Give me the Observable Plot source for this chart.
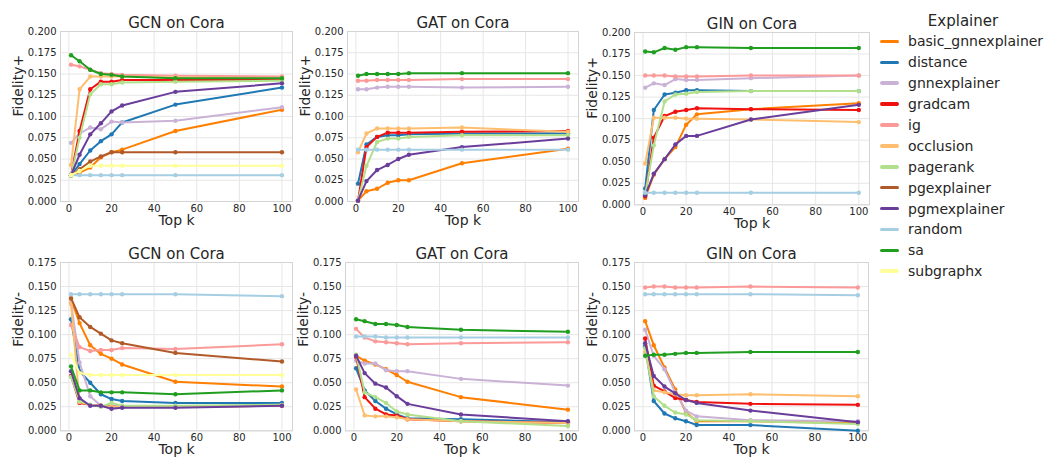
<!DOCTYPE html>
<html><head><meta charset="utf-8">
<script src="https://cdn.jsdelivr.net/npm/d3@7"></script>
<script src="https://cdn.jsdelivr.net/npm/@observablehq/plot@0.6"></script>
<style>
body{margin:0;background:#fff;font-family:"DejaVu Sans",sans-serif;}
#chart{position:relative;width:1047px;height:461px;overflow:hidden;background:#fff;}
.panel{position:absolute;}
#legend{position:absolute;left:880px;top:11px;width:166px;color:#262626;}
#legend .lt{font-size:15px;line-height:20px;text-align:center;}
#legend .row{display:flex;align-items:center;height:20.9px;font-size:14px;white-space:nowrap;}
#legend .sw{width:19px;height:3.5px;border-radius:2px;margin-right:9px;flex:none;}
</style></head><body><div id="chart"><div id="legend"></div></div>
<script>
const topK = [1, 5, 10, 15, 20, 25, 50, 100];
const explainers = ["basic_gnnexplainer","distance","gnnexplainer","gradcam","ig","occlusion","pagerank","pgexplainer","pgmexplainer","random","sa","subgraphx"];
const explainerColors = ["#ff7f00","#1f78b4","#cab2d6","#f01010","#fb9a99","#fdbf6f","#b2df8a","#b15928","#6a3d9a","#a6cee3","#1f9e1f","#ffff99"];
const xTicks = [0, 20, 40, 60, 80, 100];
const yTicksPlus = [0, 0.025, 0.05, 0.075, 0.1, 0.125, 0.15, 0.175, 0.2];
const yTicksMinus = [0, 0.025, 0.05, 0.075, 0.1, 0.125, 0.15, 0.175];

const gcnFidPlus = {
  basic_gnnexplainer: [0.031, 0.034, 0.040, 0.052, 0.058, 0.061, 0.083, 0.108],
  distance:           [0.031, 0.044, 0.060, 0.071, 0.079, 0.093, 0.114, 0.134],
  gnnexplainer:       [0.069, 0.080, 0.087, 0.085, 0.094, 0.093, 0.095, 0.111],
  gradcam:            [0.031, 0.083, 0.132, 0.141, 0.141, 0.143, 0.143, 0.143],
  ig:                 [0.161, 0.159, 0.155, 0.151, 0.150, 0.149, 0.148, 0.147],
  occlusion:          [0.043, 0.132, 0.147, 0.147, 0.147, 0.147, 0.146, 0.145],
  pagerank:           [0.030, 0.075, 0.126, 0.138, 0.138, 0.140, 0.141, 0.142],
  pgexplainer:        [0.031, 0.038, 0.047, 0.053, 0.058, 0.058, 0.058, 0.058],
  pgmexplainer:       [0.031, 0.055, 0.079, 0.092, 0.106, 0.113, 0.129, 0.139],
  random:             [0.031, 0.031, 0.031, 0.031, 0.031, 0.031, 0.031, 0.031],
  sa:                 [0.172, 0.165, 0.155, 0.150, 0.149, 0.147, 0.145, 0.145],
  subgraphx:          [0.031, 0.036, 0.042, 0.042, 0.042, 0.042, 0.042, 0.042]
};
const gatFidPlus = {
  basic_gnnexplainer: [0.001, 0.012, 0.015, 0.022, 0.025, 0.025, 0.045, 0.062],
  distance:           [0.021, 0.067, 0.076, 0.078, 0.078, 0.079, 0.080, 0.080],
  gnnexplainer:       [0.132, 0.132, 0.134, 0.135, 0.135, 0.135, 0.134, 0.135],
  gradcam:            [0.001, 0.064, 0.076, 0.081, 0.081, 0.081, 0.082, 0.083],
  ig:                 [0.142, 0.142, 0.143, 0.143, 0.143, 0.143, 0.144, 0.144],
  occlusion:          [0.058, 0.080, 0.086, 0.086, 0.086, 0.086, 0.087, 0.082],
  pagerank:           [0.001, 0.042, 0.070, 0.074, 0.074, 0.076, 0.078, 0.078],
  pgmexplainer:       [0.001, 0.024, 0.037, 0.043, 0.050, 0.055, 0.064, 0.074],
  random:             [0.061, 0.061, 0.061, 0.061, 0.061, 0.061, 0.061, 0.061],
  sa:                 [0.148, 0.150, 0.150, 0.150, 0.150, 0.151, 0.151, 0.151]
};
const ginFidPlus = {
  basic_gnnexplainer: [0.008, 0.035, 0.053, 0.067, 0.093, 0.105, 0.111, 0.118],
  distance:           [0.019, 0.110, 0.128, 0.130, 0.133, 0.133, 0.132, 0.132],
  gnnexplainer:       [0.136, 0.141, 0.139, 0.146, 0.145, 0.145, 0.147, 0.150],
  gradcam:            [0.010, 0.078, 0.103, 0.108, 0.110, 0.112, 0.111, 0.110],
  ig:                 [0.150, 0.150, 0.150, 0.149, 0.149, 0.149, 0.150, 0.150],
  occlusion:          [0.048, 0.101, 0.101, 0.101, 0.100, 0.100, 0.099, 0.096],
  pagerank:           [0.012, 0.069, 0.120, 0.128, 0.129, 0.131, 0.132, 0.132],
  pgmexplainer:       [0.011, 0.036, 0.053, 0.070, 0.080, 0.080, 0.099, 0.116],
  random:             [0.014, 0.014, 0.014, 0.014, 0.014, 0.014, 0.014, 0.014],
  sa:                 [0.178, 0.177, 0.182, 0.180, 0.183, 0.183, 0.182, 0.182]
};
const gcnFidMinus = {
  basic_gnnexplainer: [0.137, 0.112, 0.089, 0.080, 0.075, 0.069, 0.051, 0.046],
  distance:           [0.116, 0.062, 0.050, 0.038, 0.033, 0.031, 0.029, 0.029],
  gnnexplainer:       [0.133, 0.071, 0.036, 0.026, 0.026, 0.025, 0.025, 0.027],
  gradcam:            [0.057, 0.029, 0.027, 0.026, 0.025, 0.025, 0.025, 0.026],
  ig:                 [0.110, 0.087, 0.083, 0.084, 0.084, 0.086, 0.085, 0.090],
  occlusion:          [0.132, 0.030, 0.027, 0.026, 0.025, 0.025, 0.025, 0.026],
  pagerank:           [0.056, 0.031, 0.027, 0.025, 0.029, 0.026, 0.026, 0.027],
  pgexplainer:        [0.138, 0.118, 0.108, 0.101, 0.094, 0.091, 0.081, 0.072],
  pgmexplainer:       [0.062, 0.034, 0.026, 0.026, 0.023, 0.024, 0.024, 0.026],
  random:             [0.142, 0.142, 0.142, 0.142, 0.142, 0.142, 0.142, 0.140],
  sa:                 [0.067, 0.042, 0.042, 0.040, 0.040, 0.040, 0.038, 0.042],
  subgraphx:          [0.079, 0.060, 0.058, 0.058, 0.058, 0.058, 0.058, 0.058]
};
const gatFidMinus = {
  basic_gnnexplainer: [0.078, 0.073, 0.069, 0.064, 0.058, 0.051, 0.035, 0.022],
  distance:           [0.065, 0.042, 0.031, 0.023, 0.017, 0.013, 0.012, 0.009],
  gnnexplainer:       [0.073, 0.070, 0.070, 0.063, 0.062, 0.062, 0.054, 0.047],
  gradcam:            [0.077, 0.035, 0.023, 0.017, 0.016, 0.012, 0.010, 0.008],
  ig:                 [0.106, 0.097, 0.093, 0.092, 0.091, 0.090, 0.091, 0.092],
  occlusion:          [0.043, 0.016, 0.015, 0.015, 0.014, 0.012, 0.010, 0.008],
  pagerank:           [0.079, 0.040, 0.035, 0.029, 0.020, 0.017, 0.010, 0.005],
  pgmexplainer:       [0.078, 0.060, 0.049, 0.045, 0.036, 0.028, 0.017, 0.010],
  random:             [0.098, 0.098, 0.098, 0.097, 0.097, 0.097, 0.097, 0.097],
  sa:                 [0.116, 0.114, 0.111, 0.111, 0.110, 0.108, 0.105, 0.103]
};
const ginFidMinus = {
  basic_gnnexplainer: [0.114, 0.089, 0.066, 0.043, 0.019, 0.010, 0.010, 0.008],
  distance:           [0.088, 0.031, 0.018, 0.013, 0.010, 0.006, 0.006, 0.000],
  gnnexplainer:       [0.105, 0.078, 0.064, 0.040, 0.021, 0.015, 0.011, 0.010],
  gradcam:            [0.096, 0.047, 0.041, 0.034, 0.032, 0.030, 0.028, 0.027],
  ig:                 [0.149, 0.150, 0.150, 0.149, 0.149, 0.149, 0.150, 0.149],
  occlusion:          [0.082, 0.042, 0.040, 0.038, 0.037, 0.037, 0.038, 0.036],
  pagerank:           [0.086, 0.036, 0.026, 0.019, 0.017, 0.011, 0.010, 0.007],
  pgmexplainer:       [0.091, 0.057, 0.046, 0.039, 0.032, 0.029, 0.021, 0.009],
  random:             [0.142, 0.142, 0.142, 0.142, 0.142, 0.142, 0.142, 0.141],
  sa:                 [0.078, 0.079, 0.079, 0.080, 0.081, 0.081, 0.082, 0.082]
};

const panels = [
  {title: "GCN on Cora", metric: "Fidelity+", data: gcnFidPlus, yMax: 0.2, yTicks: yTicksPlus, rect: [60, 31, 292, 201]},
  {title: "GAT on Cora", metric: "Fidelity+", data: gatFidPlus, yMax: 0.2, yTicks: yTicksPlus, rect: [347, 31, 578, 201]},
  {title: "GIN on Cora", metric: "Fidelity+", data: ginFidPlus, yMax: 0.2, yTicks: yTicksPlus, rect: [634, 31.7, 869, 204]},
  {title: "GCN on Cora", metric: "Fidelity-", data: gcnFidMinus, yMax: 0.175, yTicks: yTicksMinus, rect: [60, 261.7, 292, 430]},
  {title: "GAT on Cora", metric: "Fidelity-", data: gatFidMinus, yMax: 0.175, yTicks: yTicksMinus, rect: [345, 261.7, 578, 430]},
  {title: "GIN on Cora", metric: "Fidelity-", data: ginFidMinus, yMax: 0.175, yTicks: yTicksMinus, rect: [634, 261.7, 868, 430]}
];

const chart = document.getElementById("chart");
const ml = 66, mt = 34, mr = 12, mb = 34;
const ink = "#262626";

for (const p of panels) {
  const [l, t, r, b] = p.rect;
  const marks = [
    Plot.gridX(xTicks, {stroke: "#e6e6e6", strokeOpacity: 1, strokeWidth: 1}),
    Plot.gridY(p.yTicks, {stroke: "#e6e6e6", strokeOpacity: 1, strokeWidth: 1}),
    Plot.frame({stroke: "#d4d4d4", strokeWidth: 1}),
    Plot.axisX(xTicks, {tickSize: 0, tickPadding: 3, fontSize: 10, label: null, fill: ink}),
    Plot.axisY(p.yTicks, {tickSize: 0, tickPadding: 4, fontSize: 10, label: null, fill: ink, tickFormat: d3.format(".3f")})
  ];
  explainers.forEach((e) => {
    const vals = p.data[e];
    if (!vals) return;
    const rows = topK.map((k, i) => ({explainer: e, k, value: vals[i]}));
    marks.push(Plot.line(rows, {x: "k", y: "value", stroke: "explainer", strokeWidth: 2}));
    marks.push(Plot.dot(rows, {x: "k", y: "value", fill: "explainer", r: 2.2}));
  });
  marks.push(Plot.text([p.title], {frameAnchor: "top", dy: -14, fontSize: 15, fill: ink}));
  marks.push(Plot.text(["Top k"], {frameAnchor: "bottom", dy: 23.5, fontSize: 14, fill: ink}));
  marks.push(Plot.text([p.metric], {frameAnchor: "left", dx: -42, rotate: -90, fontSize: 14, fill: ink}));

  const svg = Plot.plot({
    width: (r - l) + ml + mr,
    height: (b - t) + mt + mb,
    marginLeft: ml, marginTop: mt, marginRight: mr, marginBottom: mb,
    style: {background: "transparent", fontFamily: "DejaVu Sans", color: ink, overflow: "visible"},
    x: {domain: [-3.95, 104.95]},
    y: {domain: [0, p.yMax]},
    color: {domain: explainers, range: explainerColors},
    marks
  });
  const holder = document.createElement("div");
  holder.className = "panel";
  holder.style.left = (l - ml) + "px";
  holder.style.top = (t - mt) + "px";
  holder.appendChild(svg);
  chart.appendChild(holder);
}

const legend = document.getElementById("legend");
const lt = document.createElement("div");
lt.className = "lt";
lt.textContent = "Explainer";
legend.appendChild(lt);
explainers.forEach((e, i) => {
  const row = document.createElement("div");
  row.className = "row";
  const sw = document.createElement("span");
  sw.className = "sw";
  sw.style.background = explainerColors[i];
  row.appendChild(sw);
  row.appendChild(document.createTextNode(e));
  legend.appendChild(row);
});
</script></body></html>
